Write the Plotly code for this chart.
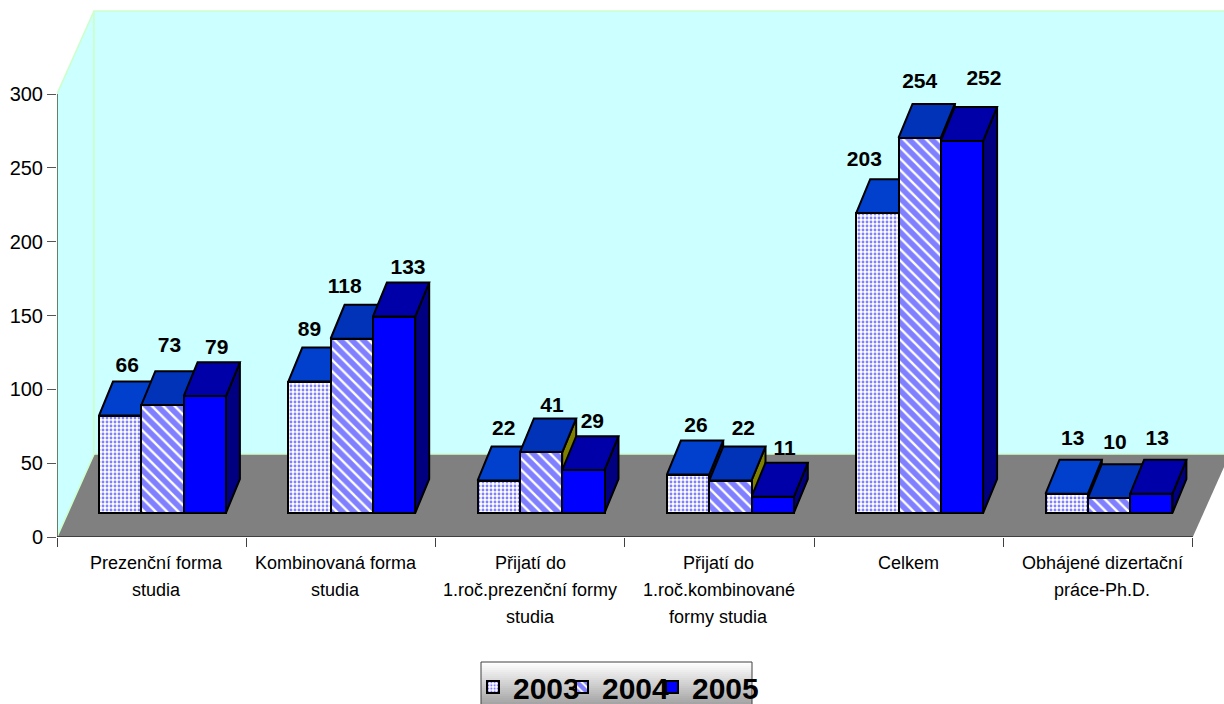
import plotly.graph_objects as go

categories = [
    ["Prezenční forma", "studia"],
    ["Kombinovaná forma", "studia"],
    ["Přijatí do", "1.roč.prezenční formy", "studia"],
    ["Přijatí do", "1.roč.kombinované", "formy studia"],
    ["Celkem"],
    ["Obhájené dizertační", "práce-Ph.D."],
]
series_names = ["2003", "2004", "2005"]
values_2003 = [66, 89, 22, 26, 203, 13]
values_2004 = [73, 118, 41, 22, 254, 10]
values_2005 = [79, 133, 29, 11, 252, 13]
y_ticks = [0, 50, 100, 150, 200, 250, 300]

# label nudges in pixels, relative to the front-top centre of each bar
label_dx = [[7, 7, 12], [0, -7, 14], [5, 11, 9], [8, 13, 12], [-13, 0, 22], [6, 6, 6]]
label_dy = [[49, 58, 48], [51, 51, 48], [51, 46, 47], [48, 51, 47], [52, 55, 61], [54, 54, 54]]
cat_label_dx = [5, -5, 0, -1, 0, 4]

W, H = 1224, 704
ML, MB = 57, 167
PX_X = 189.3
PX_Y = 443 / 300
plot_w, plot_h = W - ML, H - MB
XR = [0, plot_w / PX_X]
YR = [0, plot_h / PX_Y]
n = len(categories)

wall_dx, wall_dy = 37 / PX_X, 83 / PX_Y
bar_dx, bar_dy = 14 / PX_X, 34 / PX_Y
bar_w = 42.3 / PX_X
group_off = 42 / PX_X
base = 24 / PX_Y

series = [values_2003, values_2004, values_2005]
top_colors = ["#0040CC", "#0033B8", "#0000A8"]
side_colors = ["#202040", "#808000", "#000080"]
patterns = [
    dict(shape=".", fgcolor="#0000FF", bgcolor="#FFFFFF", size=4, solidity=0.4),
    dict(shape="\\", fgcolor="#0000FF", bgcolor="#FFFFFF", size=8, solidity=0.7),
    dict(shape="", fgcolor="#0000FF", bgcolor="#0000FF"),
]
fills = ["#FFFFFF", "#FFFFFF", "#0000FF"]

fig = go.Figure()


def center(i, s):
    return i + group_off + bar_w * (s + 0.5)


# 3D faces (under the bar fronts)
for s, vals in enumerate(series):
    tx, ty, sx, sy = [], [], [], []
    for i, v in enumerate(vals):
        x0 = center(i, s) - bar_w / 2
        x1 = x0 + bar_w
        t = base + v
        tx += [x0, x1, x1 + bar_dx, x0 + bar_dx, x0, None]
        ty += [t, t, t + bar_dy, t + bar_dy, t, None]
        sx += [x1, x1 + bar_dx, x1 + bar_dx, x1, x1, None]
        sy += [base, base + bar_dy, t + bar_dy, t, base, None]
    for xs, ys, col in ((sx, sy, side_colors[s]), (tx, ty, top_colors[s])):
        fig.add_trace(go.Scatter(x=xs, y=ys, mode="lines", fill="toself", fillcolor=col,
                                 line=dict(color="#000000", width=2), showlegend=False,
                                 hoverinfo="skip", xaxis="x", yaxis="y"))

legend_ids = ["legend", "legend2", "legend3"]

# Bar fronts
for s, vals in enumerate(series):
    fig.add_trace(go.Bar(x=[center(i, s) for i in range(n)], y=vals, base=base, width=bar_w,
                         name=series_names[s], legend=legend_ids[s],
                         marker=dict(color=fills[s], pattern=patterns[s],
                                     line=dict(color="#000000", width=2)),
                         xaxis="x2", yaxis="y2"))

# Data labels
for s, vals in enumerate(series):
    fig.add_trace(go.Scatter(
        x=[center(i, s) + label_dx[i][s] / PX_X for i in range(n)],
        y=[base + v + label_dy[i][s] / PX_Y for i, v in enumerate(vals)],
        text=[str(v) for v in vals], mode="text", textposition="middle center",
        textfont=dict(family="Liberation Sans", size=21, color="#000000"),
        texttemplate="<b>%{text}</b>", showlegend=False, hoverinfo="skip",
        xaxis="x2", yaxis="y2"))

shapes = []
top = y_ticks[-1]
# floor
shapes.append(dict(type="path", layer="below", xref="x", yref="y",
                   path=f"M0,0 L{n},0 L{n + wall_dx},{wall_dy} L{wall_dx},{wall_dy} Z",
                   fillcolor="#808080", line=dict(width=0)))
# left wall
shapes.append(dict(type="path", layer="below", xref="x", yref="y",
                   path=f"M0,0 L0,{top} L{wall_dx},{top + wall_dy} L{wall_dx},{wall_dy} Z",
                   fillcolor="#CCFFFF", line=dict(color="#CCFFCC", width=1.6)))
# back wall
shapes.append(dict(type="rect", layer="below", xref="x", yref="y",
                   x0=wall_dx, x1=n + wall_dx, y0=wall_dy, y1=top + wall_dy,
                   fillcolor="#CCFFFF", line=dict(color="#CCFFCC", width=1.6)))
# axis lines
shapes.append(dict(type="line", layer="below", xref="x", yref="y", x0=0, x1=0, y0=0, y1=top,
                   line=dict(color="#000000", width=1)))
shapes.append(dict(type="line", layer="below", xref="x", yref="y", x0=0, x1=n, y0=0, y1=0,
                   line=dict(color="#000000", width=1)))

# legend box with vertical gradient
LX0, LX1, LY0, LY1 = 481, 752, 662, 704


def px(x):
    return (x - ML) / plot_w


def py(y):
    return (H - MB - y) / plot_h


bands = 21
for k in range(bands):
    g = round(255 - (255 - 165) * (k / (bands - 1)))
    y0 = LY0 + (LY1 - LY0) * k / bands
    y1 = LY0 + (LY1 - LY0) * (k + 1) / bands
    shapes.append(dict(type="rect", xref="paper", yref="paper", x0=px(LX0), x1=px(LX1),
                       y0=py(y0), y1=py(y1), fillcolor=f"rgb({g},{g},{g})", line=dict(width=0)))
shapes.append(dict(type="path", xref="paper", yref="paper",
                   path=f"M{px(LX0)},{py(LY1)} L{px(LX0)},{py(LY0)} L{px(LX1)},{py(LY0)} L{px(LX1)},{py(LY1)}",
                   line=dict(color="#404040", width=1)))

# category labels, one annotation per line for the wide line spacing
annotations = []
for i, lines in enumerate(categories):
    for j, line in enumerate(lines):
        annotations.append(dict(x=i + 0.5 + cat_label_dx[i] / PX_X, y=py(563 + 27 * j), xref="x",
                                yref="paper", text=line, showarrow=False, xanchor="center",
                                yanchor="middle",
                                font=dict(family="Liberation Sans", size=18, color="#000000")))


def legend_at(x_px):
    return dict(x=px(x_px), y=py(661), xanchor="left", yanchor="top", bgcolor="rgba(0,0,0,0)",
                borderwidth=0,
                font=dict(family="Liberation Sans", size=30, color="#000000", weight="bold"))


fig.update_layout(
    width=W, height=H, autosize=False,
    margin=dict(l=ML, r=0, t=0, b=MB, autoexpand=False, pad=0),
    paper_bgcolor="#FFFFFF", plot_bgcolor="#FFFFFF",
    barmode="overlay", bargap=0, shapes=shapes, annotations=annotations,
    xaxis=dict(range=XR, tickmode="array", tickvals=list(range(n + 1)), showticklabels=False,
               ticks="outside", ticklen=9, tickcolor="#404040", showgrid=False, zeroline=False,
               showline=False, fixedrange=True),
    yaxis=dict(range=YR, tickmode="array", tickvals=y_ticks, ticks="outside", ticklen=9,
               tickcolor="#555555", showgrid=False, zeroline=False, showline=False,
               tickfont=dict(family="Liberation Sans", size=20, color="#000000"), fixedrange=True),
    xaxis2=dict(range=XR, overlaying="x", visible=False, fixedrange=True),
    yaxis2=dict(range=YR, overlaying="y", visible=False, fixedrange=True),
    showlegend=True,
    legend=legend_at(473), legend2=legend_at(562), legend3=legend_at(652),
)

fig.write_html("out.html", config=dict(displayModeBar=False),
               post_script="document.body.style.margin='0';")
